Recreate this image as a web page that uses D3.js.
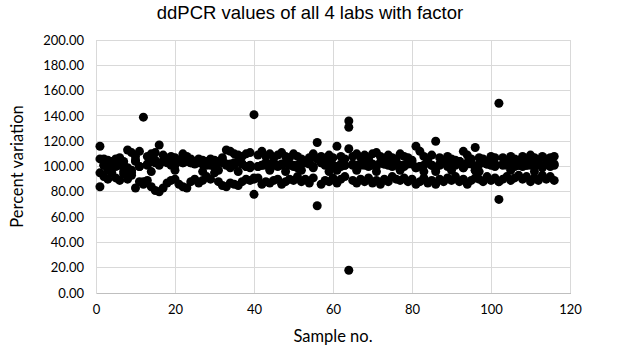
<!DOCTYPE html>
<html><head><meta charset="utf-8">
<script src="https://cdn.jsdelivr.net/npm/d3@7"></script>
<style>html,body{margin:0;padding:0;background:#fff;}svg{display:block;}</style>
</head><body>
<svg id="chart" width="622" height="349"></svg>
<script>
const title = "ddPCR values of all 4 labs with factor";
const xTitle = "Sample no.";
const yTitle = "Percent variation";
const xTicks = [0, 20, 40, 60, 80, 100, 120];
const yTicks = [0, 20, 40, 60, 80, 100, 120, 140, 160, 180, 200];

const labA = [116,106,105,104,106,107,104,113,111,108,112,139,108,110,111,117,109,106,108,107,105,110,108,106,104,106,105,104,106,105,104,107,113,112,110,109,108,110,111,141,109,112,108,110,107,109,111,108,107,110,108,106,104,107,110,119,108,106,109,107,116,108,106,136,108,110,107,109,106,110,111,108,106,109,107,106,110,108,107,105,116,112,108,106,109,120,107,105,108,106,105,104,112,109,106,115,107,106,104,108,107,150,107,105,108,106,105,108,106,109,107,105,108,106,107,108];
const labB = [106,101,103,102,100,103,101,99,97,104,100,88,102,104,103,101,104,103,102,101,105,103,104,103,102,104,102,101,103,100,104,103,102,99,103,104,102,100,101,90,100,101,103,102,103,101,102,103,101,100,99,104,103,104,100,106,103,104,102,101,97,102,101,131,102,101,102,101,103,102,100,103,102,101,100,103,101,100,102,103,99,100,101,103,101,98,102,104,101,103,102,104,99,102,103,97,102,103,102,101,100,88,101,102,101,100,101,100,101,101,100,102,99,102,100,101];
const labC = [95,101,97,101,103,101,96,98,95,105,100,87,101,96,105,102,104,104,101,97,104,103,105,103,104,103,96,103,101,100,97,105,101,102,101,96,102,100,99,91,100,101,101,97,101,100,101,96,102,101,101,97,103,102,99,106,103,101,96,101,100,100,101,114,101,97,101,102,100,101,96,103,102,102,101,101,97,101,103,102,99,100,96,104,101,96,101,103,100,97,101,104,99,103,102,97,96,103,102,102,102,88,102,101,97,103,101,102,101,102,96,104,100,102,101,102];
const labD = [84,92,90,95,91,89,94,90,93,83,88,86,89,84,81,80,83,87,89,90,86,84,83,88,90,87,89,92,90,95,88,85,84,87,86,85,88,90,89,78,91,86,88,87,89,90,86,88,90,89,92,88,90,87,91,69,86,89,88,91,87,90,92,18,89,87,90,88,91,87,89,86,90,88,92,90,89,91,88,90,86,88,91,87,89,86,90,88,91,89,92,88,90,86,89,91,90,88,92,89,91,74,90,92,89,91,93,90,92,88,91,89,93,90,92,89];

const svg = d3.select("#chart");
const margin = {left: 96, right: 52, top: 40, bottom: 56};
const W = 622, H = 349;
const x = d3.scaleLinear().domain([0, 120]).range([margin.left, W - margin.right]);
const y = d3.scaleLinear().domain([0, 200]).range([H - margin.bottom, margin.top]);

const grid = svg.append("g");
grid.selectAll("line.h").data(yTicks).enter().append("line")
  .attr("x1", x(0)).attr("x2", x(120)).attr("y1", d => y(d)).attr("y2", d => y(d))
  .attr("stroke", "#d9d9d9").attr("stroke-width", 1).attr("shape-rendering", "crispEdges");
grid.selectAll("line.v").data(xTicks).enter().append("line")
  .attr("y1", y(0)).attr("y2", y(200)).attr("x1", d => x(d)).attr("x2", d => x(d))
  .attr("stroke", "#d9d9d9").attr("stroke-width", 1).attr("shape-rendering", "crispEdges");

const xAxis = svg.append("g").attr("transform", `translate(0,${y(0)})`)
  .call(d3.axisBottom(x).tickValues(xTicks).tickSize(0).tickPadding(12).tickFormat(d3.format("d")));
xAxis.select(".domain").attr("stroke", "#bfbfbf").attr("shape-rendering", "crispEdges");
xAxis.selectAll("text").attr("font-family", "Lato, 'Open Sans', sans-serif").attr("font-size", 13).attr("fill", "#000");

const yAxis = svg.append("g").attr("transform", `translate(${x(0)},0)`)
  .call(d3.axisLeft(y).tickValues(yTicks).tickSize(0).tickPadding(12).tickFormat(d3.format(".2f")));
yAxis.select(".domain").remove();
yAxis.selectAll("text").attr("font-family", "Lato, 'Open Sans', sans-serif").attr("font-size", 13).attr("fill", "#000");

const series = [labA, labB, labC, labD];
const pts = [];
series.forEach((arr, s) => arr.forEach((v, i) => pts.push({x: i + 1, y: v, s})));
svg.append("g").selectAll("circle").data(pts).enter().append("circle")
  .attr("cx", d => x(d.x)).attr("cy", d => y(d.y)).attr("r", 4.5).attr("fill", "#000");

svg.append("text").attr("x", 310).attr("y", 19).attr("text-anchor", "middle")
  .attr("font-family", "'Liberation Sans', Arial, sans-serif").attr("font-size", 18.5).attr("fill", "#000").text(title);
svg.append("text").attr("x", (x(0) + x(120)) / 2).attr("y", 342).attr("text-anchor", "middle")
  .attr("font-family", "Lato, 'Open Sans', sans-serif").attr("font-size", 16.5).attr("fill", "#000").text(xTitle);
svg.append("text").attr("transform", `translate(23,${(y(0) + y(200)) / 2}) rotate(-90)`).attr("text-anchor", "middle")
  .attr("font-family", "Lato, 'Open Sans', sans-serif").attr("font-size", 16.5).attr("fill", "#000").text(yTitle);
</script>
</body></html>
